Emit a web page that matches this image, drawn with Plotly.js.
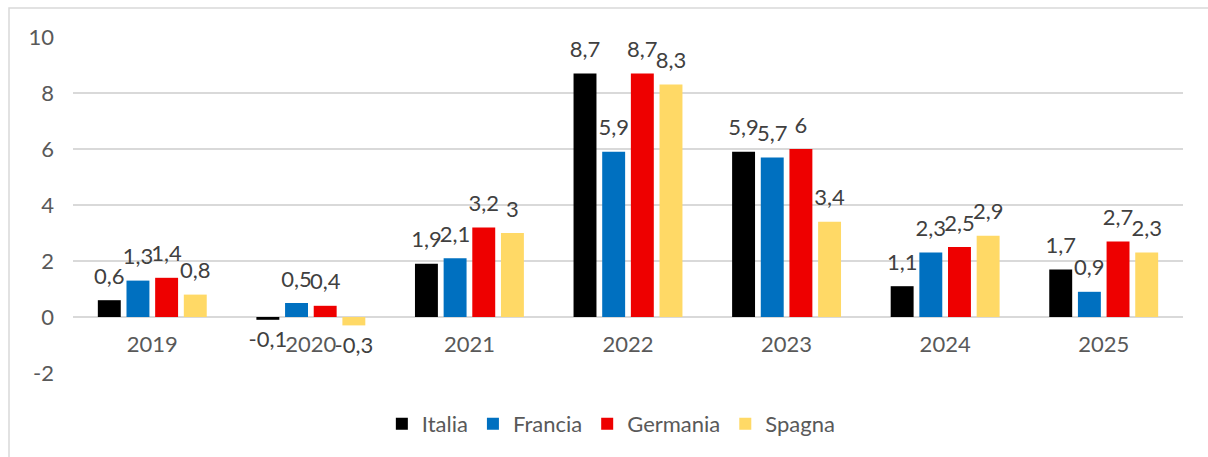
<!DOCTYPE html>
<html>
<head>
<meta charset="utf-8">
<script src="https://cdn.plot.ly/plotly-3.0.1.min.js"></script>
<style>
  html, body { margin: 0; padding: 0; background: #fff; }
  #grafico { width: 1208px; height: 457px; }
</style>
</head>
<body>
<div id="grafico"></div>
<script>
// Dati
const anni = ['2019', '2020', '2021', '2022', '2023', '2024', '2025'];
const italia = [0.6, -0.1, 1.9, 8.7, 5.9, 1.1, 1.7];
const francia = [1.3, 0.5, 2.1, 5.9, 5.7, 2.3, 0.9];
const germania = [1.4, 0.4, 3.2, 8.7, 6, 2.5, 2.7];
const spagna = [0.8, -0.3, 3, 8.3, 3.4, 2.9, 2.3];
const tickY = [-2, 0, 2, 4, 6, 8, 10];

const FONT = 'Lato, "Open Sans", sans-serif';
const SIZE = 22;
const GAP = 0.277;
const yMin = -2, yMax = 10;

// etichette con la virgola come separatore decimale
const etichetta = arr => arr.map(v => String(v).replace('.', ','));

const barre = (nome, valori, colore) => ({
    type: 'bar',
    name: nome,
    x: anni,
    y: valori,
    marker: { color: colore, line: { width: 0 } },
    hoverinfo: 'x+y+name'
});

// etichette dei valori: tracce scatter raggruppate come le barre
const testi = (nome, valori) => ({
    type: 'scatter',
    mode: 'markers+text',
    name: nome,
    x: anni,
    y: valori,
    text: etichetta(valori),
    textposition: valori.map(v => v < 0 ? 'bottom center' : 'top center'),
    textfont: { family: FONT, size: SIZE, color: '#404040' },
    marker: { size: 16, color: 'rgba(0,0,0,0)' },
    cliponaxis: false,
    showlegend: false,
    hoverinfo: 'skip'
});

const dati = [
    barre('Italia', italia, '#000000'),
    barre('Francia', francia, '#0070C0'),
    barre('Germania', germania, '#EE0000'),
    barre('Spagna', spagna, '#FFD966'),
    testi('Italia', italia),
    testi('Francia', francia),
    testi('Germania', germania),
    testi('Spagna', spagna)
];

const layout = {
    width: 1208,
    height: 457,
    margin: { l: 73, r: 25, t: 37, b: 84 },
    paper_bgcolor: '#ffffff',
    plot_bgcolor: '#ffffff',
    font: { family: FONT, size: SIZE, color: '#595959' },
    barmode: 'group',
    bargap: GAP,
    bargroupgap: 0.2,
    scattermode: 'group',
    scattergap: GAP,
    showlegend: true,
    legend: {
        orientation: 'h',
        x: 0.485,
        xanchor: 'center',
        y: -0.152,
        yanchor: 'middle',
        font: { family: FONT, size: SIZE, color: '#595959' },
        traceorder: 'normal'
    },
    xaxis: {
        type: 'category',
        anchor: 'free',
        position: (0 - yMin) / (yMax - yMin),
        showgrid: false,
        showline: false,
        ticks: '',
        tickfont: { family: FONT, size: SIZE, color: '#595959' },
        ticklabelstandoff: 12
    },
    yaxis: {
        range: [yMin, yMax],
        tickvals: tickY,
        ticktext: tickY.map(String),
        showgrid: true,
        gridcolor: '#D9D9D9',
        gridwidth: 1.5,
        zeroline: true,
        zerolinecolor: '#D9D9D9',
        zerolinewidth: 1.5,
        showline: false,
        ticks: '',
        tickfont: { family: FONT, size: SIZE, color: '#595959' },
        ticklabelstandoff: 18
    },
    shapes: [{
        type: 'rect',
        xref: 'paper',
        yref: 'paper',
        x0: (9 - 73) / 1110,
        x1: 1.05,
        y0: -0.5,
        y1: 1 + 29 / 336,
        line: { color: '#D9D9D9', width: 1.5 },
        fillcolor: 'rgba(0,0,0,0)',
        layer: 'below'
    }]
};

Plotly.newPlot('grafico', dati, layout, { displayModeBar: false, staticPlot: true });
</script>
</body>
</html>
